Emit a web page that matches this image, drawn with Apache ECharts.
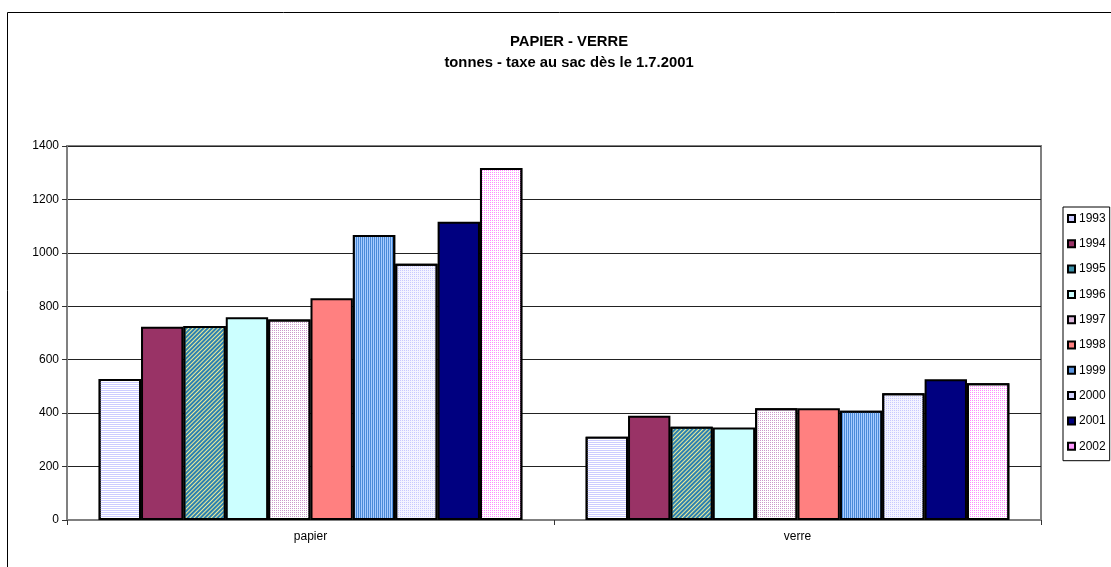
<!DOCTYPE html>
<html>
<head>
<meta charset="utf-8">
<script src="https://cdn.jsdelivr.net/npm/echarts@6/dist/echarts.min.js"></script>
<style>
html,body{margin:0;padding:0;background:#fff;}
#c{width:1111px;height:567px;}
</style>
</head>
<body>
<div id="c"></div>
<script>
const categories = ['papier', 'verre'];
const years = ['1993','1994','1995','1996','1997','1998','1999','2000','2001','2002'];
const papier = [528, 723, 726, 759, 751, 830, 1067, 959, 1116, 1318];
const verre  = [312, 390, 349, 346, 418, 418, 409, 474, 527, 512];
const yTicks = { min: 0, max: 1400, interval: 200 };

const styles = [
  { color: '#ffffff', decal: { symbol: 'rect', symbolSize: 1, dashArrayX: [1, 0], dashArrayY: [1, 1], color: '#ccccff' } },
  { color: '#993366' },
  { color: '#eeee99', decal: { symbol: 'rect', symbolSize: 1, dashArrayX: [1, 0], dashArrayY: [1.4, 1], rotation: -Math.PI / 4, color: '#2c80b0' } },
  { color: '#ccffff' },
  { color: '#ffffff', decal: { symbol: 'rect', symbolSize: 1, dashArrayX: [1, 1], dashArrayY: [1, 1], color: '#cc99cc' } },
  { color: '#ff8080' },
  { color: '#a8ccff', decal: { symbol: 'rect', symbolSize: 1, dashArrayX: [1, 1], dashArrayY: [1, 0], color: '#4a8ad8' } },
  { color: '#f4f4ff', decal: { symbol: 'rect', symbolSize: 1, dashArrayX: [1, 1], dashArrayY: [1, 1], color: '#c8c8ff' } },
  { color: '#000080' },
  { color: '#ffffff', decal: { symbol: 'rect', symbolSize: 1, dashArrayX: [1, 1], dashArrayY: [1, 1], color: '#ff88ff' } }
];
const legendColors = ['#ccccff', '#993366', '#3a90a8', '#ccffff', '#dcb8dc', '#ff8080', '#5b95e0', '#d4d4ff', '#000080', '#ff99ff'];

const series = years.map((y, i) => ({
  name: y,
  type: 'bar',
  barGap: '0%',
  barCategoryGap: '13%',
  data: [papier[i], verre[i]],
  itemStyle: Object.assign({ borderColor: '#000', borderWidth: 2 }, styles[i]),
  emphasis: { disabled: true }
}));

const chart = echarts.init(document.getElementById('c'), null, { renderer: 'canvas' });
chart.setOption({
  animation: false,
  backgroundColor: '#fff',
  textStyle: { fontFamily: 'Liberation Sans, Arial, sans-serif' },
  title: [
    { text: 'PAPIER - VERRE', left: 564, top: 29, textAlign: 'center',
      textStyle: { fontSize: 14.8, fontWeight: 'bold', color: '#000', fontFamily: 'Liberation Sans, Arial, sans-serif' } },
    { text: 'tonnes - taxe au sac dès le 1.7.2001', left: 564, top: 50, textAlign: 'center',
      textStyle: { fontSize: 14.8, fontWeight: 'bold', color: '#000', fontFamily: 'Liberation Sans, Arial, sans-serif' } }
  ],
  graphic: [
    { type: 'polyline', shape: { points: [[7.5, 600], [7.5, 12.5], [1200, 12.5]] },
      style: { stroke: '#000', lineWidth: 1, fill: null }, silent: true }
  ],
  legend: {
    orient: 'vertical',
    left: 1063, top: 207,
    padding: [5, 4, 8, 4],
    itemWidth: 7, itemHeight: 7,
    itemGap: 12.3,
    icon: 'rect',
    borderColor: '#000', borderWidth: 1,
    textStyle: { fontSize: 12, lineHeight: 13, color: '#000', padding: [0, 0, 0, -1] },
    data: years.map((y, i) => ({
      name: y,
      itemStyle: { color: legendColors[i], borderColor: '#000', borderWidth: 2, decal: 'none' }
    }))
  },
  grid: { left: 67, right: 70, top: 146, bottom: 47, show: true, borderColor: '#808080', borderWidth: 2, backgroundColor: 'transparent' },
  xAxis: {
    type: 'category',
    data: categories,
    axisLine: { lineStyle: { color: '#808080', width: 2 } },
    axisTick: { show: true, alignWithLabel: false, interval: 0, length: 5, lineStyle: { color: '#333' } },
    axisLabel: { fontSize: 12, color: '#000', margin: 11 },
    splitLine: { show: false }
  },
  yAxis: {
    type: 'value',
    min: yTicks.min, max: yTicks.max, interval: yTicks.interval,
    axisLine: { show: true, lineStyle: { color: '#808080', width: 2 } },
    axisTick: { show: true, length: 5, lineStyle: { color: '#333' } },
    axisLabel: { fontSize: 12, color: '#000', margin: 8, formatter: v => String(v) },
    splitLine: { show: true, lineStyle: { color: '#222', width: 1 } }
  },
  series: series
});
</script>
</body>
</html>
